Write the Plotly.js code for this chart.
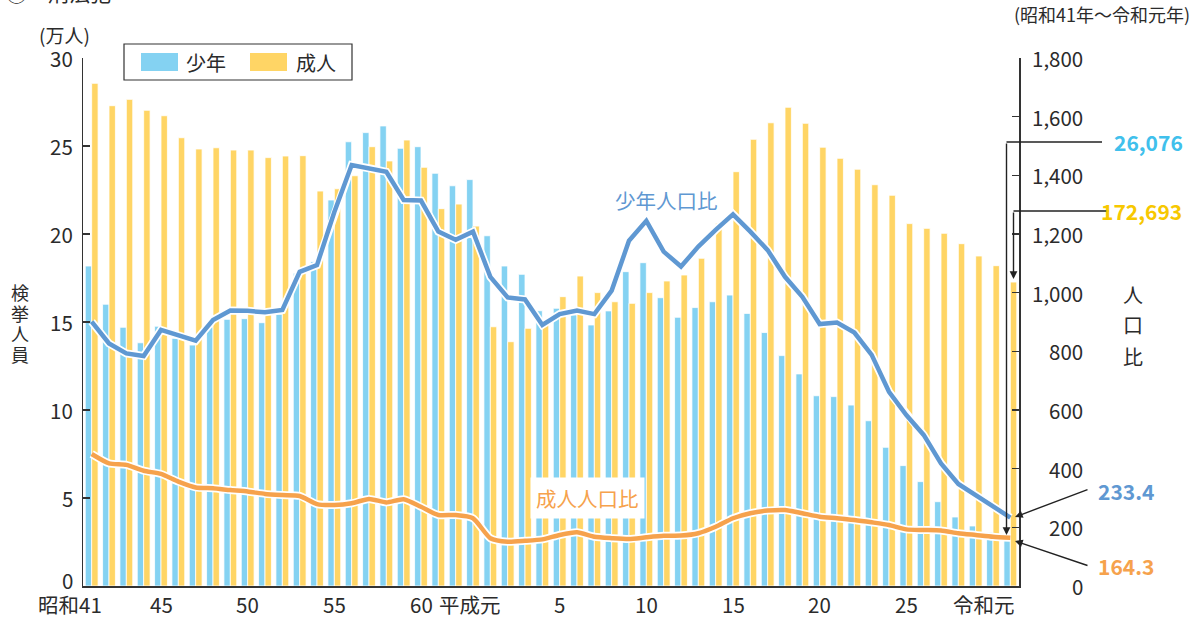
<!DOCTYPE html>
<html><head><meta charset="utf-8">
<script src="https://cdn.plot.ly/plotly-3.0.1.min.js"></script>
<style>html,body{margin:0;padding:0;background:#fff}#chart{width:1198px;height:621px}</style>
</head><body><div id="chart"></div>
<script>
// ---- data ----
const yearLabels = ["昭和41","42","43","44","45","46","47","48","49","50","51","52","53","54","55","56","57","58","59","60","61","62","63",
  "平成元","2","3","4","5","6","7","8","9","10","11","12","13","14","15","16","17","18","19","20","21","22","23","24","25","26","27","28","29","30","令和元"];
const youth = [18.18,16.01,14.70,13.82,14.76,14.07,13.69,14.72,15.15,15.19,
  14.96,15.44,17.77,18.43,21.93,25.24,25.76,26.14,24.87,24.96,
  23.45,22.74,23.09,19.90,18.18,17.71,15.64,15.78,15.40,14.83,
  15.63,17.86,18.37,16.38,15.27,15.82,16.15,16.53,15.49,14.40,
  13.09,12.05,10.81,10.76,10.28,9.39,7.88,6.84,5.93,4.79,
  3.92,3.41,3.05,2.6076];
const adult = [28.56,27.29,27.65,27.03,26.72,25.47,24.83,24.90,24.77,24.77,
  24.34,24.43,24.45,22.44,22.57,23.31,24.96,24.15,25.34,23.79,
  21.44,21.70,20.45,14.73,13.88,14.64,14.90,16.44,17.61,16.67,
  16.15,16.06,16.67,17.33,17.67,18.62,20.61,23.54,25.38,26.32,
  27.20,26.29,24.93,24.30,23.68,22.80,22.20,20.59,20.32,20.04,
  19.45,18.75,18.20,17.2693];
const youthRate = [901,827,793,784,873,856,836,907,939,938,
  933,941,1071,1094,1275,1435,1424,1412,1316,1314,
  1208,1180,1208,1054,984,977,890,927,939,927,
  1007,1177,1245,1140,1089,1157,1214,1267,1208,1145,
  1054,986,893,898,864,788,662,583,515,418,
  348,310,270,233.4];
const adultRate = [450,418,413,393,382,356,336,333,327,322,
  314,310,307,279,276,282,297,285,296,270,
  242,242,231,163,151,154,159,174,183,168,
  163,160,166,171,172,180,202,231,248,257,
  259,248,236,231,225,217,208,193,191,189,
  180,174,168,164.3];
const tickIdx  = [0,4,9,14,19,23,27,32,37,42,47,53];
const tickText = ["昭和41","45","50","55","60","平成元","5","10","15","20","25","令和元"];
const countTicks = [0,5,10,15,20,25,30];
const rateTicks = [0,200,400,600,800,1000,1200,1400,1600,1800];
const seriesNames = ["少年","成人"];
const lastYouthCount = "26,076", lastAdultCount = "172,693";
const lastYouthRate = "233.4", lastAdultRate = "164.3";

// ---- styles ----
const FONT = "Noto Sans CJK JP, Noto Sans, sans-serif";
const TXT = "#2b2b2b";
const C_BLUE_BAR = "#84d2f2", C_YEL_BAR = "#ffd565";
const C_BLUE_LINE = "#5f98d2", C_ORANGE = "#f6a24c";
const C_CYAN_TXT = "#40c0ec", C_YEL_TXT = "#f7c800";
const TICK_SIZE = 20.5;
const L = 83, R = 179, T = 58, B = 35, W = 1198, H = 621;
const PW = W - L - R, PH = H - T - B;
const px = x => (x - L) / PW;
const py = y => (H - B - y) / PH;
const shiftOf = {"昭和41": -22, "平成元": -20, "令和元": -26};

const n = yearLabels.length;
const xs = yearLabels.map((_, i) => i);

const traces = [
  {type: 'bar', x: xs, y: youth, name: seriesNames[0], yaxis: 'y',
   marker: {color: C_BLUE_BAR, line: {color: '#ffffff', width: 0.8}}, hoverinfo: 'skip'},
  {type: 'bar', x: xs, y: adult, name: seriesNames[1], yaxis: 'y',
   marker: {color: C_YEL_BAR, line: {color: '#ffffff', width: 0.8}}, hoverinfo: 'skip'},
  {type: 'scatter', mode: 'lines', x: xs, y: adultRate, yaxis: 'y2',
   line: {color: '#ffffff', width: 8, shape: 'spline', smoothing: 0.6}, hoverinfo: 'skip'},
  {type: 'scatter', mode: 'lines', x: xs, y: adultRate, yaxis: 'y2',
   line: {color: C_ORANGE, width: 4.5, shape: 'spline', smoothing: 0.6}, hoverinfo: 'skip'},
  {type: 'scatter', mode: 'lines', x: xs, y: youthRate, yaxis: 'y2',
   line: {color: '#ffffff', width: 8}, hoverinfo: 'skip'},
  {type: 'scatter', mode: 'lines', x: xs, y: youthRate, yaxis: 'y2',
   line: {color: C_BLUE_LINE, width: 4.5}, hoverinfo: 'skip'}
];

const annotations = [];
function txt(x, y, text, size, color, extra) {
  annotations.push(Object.assign({x: px(x), y: py(y), xref: 'paper', yref: 'paper', text: text, showarrow: false,
    xanchor: 'center', yanchor: 'middle', font: {family: FONT, size: size, color: color}}, extra || {}));
}
// x tick labels
tickIdx.forEach((idx, k) => {
  annotations.push({x: idx, y: py(604), xref: 'x', yref: 'paper', text: tickText[k],
    showarrow: false, xshift: shiftOf[tickText[k]] || 0, xanchor: 'center', yanchor: 'middle',
    font: {family: FONT, size: TICK_SIZE, color: TXT}});
});
// left axis tick labels (0 nudged up as in the original)
countTicks.forEach(v => {
  annotations.push({x: px(75), y: v, xref: 'paper', yref: 'y', text: String(v),
    showarrow: false, xanchor: 'right', yanchor: 'middle', yshift: v === 0 ? 6 : 0,
    font: {family: FONT, size: TICK_SIZE, color: TXT}});
});
// right axis tick labels (right-aligned)
rateTicks.forEach(v => {
  annotations.push({x: px(1085), y: v, xref: 'paper', yref: 'y2', text: v.toLocaleString('en-US'),
    showarrow: false, xanchor: 'right', yanchor: 'middle',
    font: {family: FONT, size: TICK_SIZE, color: TXT}});
});
// axis titles
txt(64, 34, '(万人)', 19, TXT);
'検挙人員'.split('').forEach((ch, i) => txt(20, 292 + i * 20.7, ch, 18, TXT));
'人口比'.split('').forEach((ch, i) => txt(1133, 294 + i * 31, ch, 20, TXT));
// header texts
txt(1102, 14, '(昭和41年～令和元年)', 18, TXT);
txt(4, -8, '①　刑法犯', 21, TXT, {xanchor: 'left'});
// legend text
txt(184, 62, seriesNames[0], 20, TXT, {xanchor: 'left'});
txt(294, 62, seriesNames[1], 20, TXT, {xanchor: 'left'});
// line labels
txt(666, 200, '少年人口比', 20.5, C_BLUE_LINE);
txt(587, 498, '成人人口比', 20.5, C_ORANGE, {bgcolor: '#ffffff', borderpad: 5});
// callouts
txt(1148, 142, '<b>' + lastYouthCount + '</b>', 21, C_CYAN_TXT);
txt(1141, 211, '<b>' + lastAdultCount + '</b>', 21, C_YEL_TXT);
txt(1126, 491, '<b>' + lastYouthRate + '</b>', 21, C_BLUE_LINE);
txt(1126, 566, '<b>' + lastAdultRate + '</b>', 21, C_ORANGE);
// arrows
const arrowBase = {text: '', showarrow: true, arrowhead: 2, arrowsize: 1.1, arrowwidth: 1.4, arrowcolor: '#222',
  xref: 'paper', yref: 'paper', axref: 'pixel', ayref: 'pixel', standoff: 0, startstandoff: 0};
annotations.push(Object.assign({}, arrowBase, {x: px(1006.5), y: py(535), ax: 0, ay: -393}));
annotations.push(Object.assign({}, arrowBase, {x: px(1013.5), y: py(279), ax: 0, ay: -68}));
annotations.push(Object.assign({}, arrowBase, {x: px(1015), y: py(517), ax: 74, ay: -28}));
annotations.push(Object.assign({}, arrowBase, {x: px(1015), y: py(541), ax: 74, ay: 25}));

const shapes = [
  // legend box & swatches
  {type: 'rect', xref: 'paper', yref: 'paper', x0: px(124), x1: px(352), y0: py(80), y1: py(44),
   line: {color: '#333', width: 1.2}, fillcolor: '#ffffff'},
  {type: 'rect', xref: 'paper', yref: 'paper', x0: px(141), x1: px(178), y0: py(71), y1: py(53),
   line: {width: 0}, fillcolor: C_BLUE_BAR},
  {type: 'rect', xref: 'paper', yref: 'paper', x0: px(250), x1: px(287), y0: py(71), y1: py(53),
   line: {width: 0}, fillcolor: C_YEL_BAR},
  // callout leader lines
  {type: 'line', xref: 'paper', yref: 'paper', x0: px(1006.5), x1: px(1102), y0: py(142), y1: py(142),
   line: {color: '#222', width: 1.4}},
  {type: 'line', xref: 'paper', yref: 'paper', x0: px(1013.5), x1: px(1109), y0: py(211), y1: py(211),
   line: {color: '#222', width: 1.4}}
];

const layout = {
  width: W, height: H, margin: {l: L, r: R, t: T, b: B, pad: 0},
  paper_bgcolor: '#ffffff', plot_bgcolor: '#ffffff',
  showlegend: false, barmode: 'group', bargap: 0.26, bargroupgap: 0,
  font: {family: FONT, color: TXT},
  xaxis: {range: [-0.5, n - 0.5], showline: true, linecolor: '#333', linewidth: 1.5, ticks: '',
    showticklabels: false, showgrid: false, zeroline: false, fixedrange: true},
  yaxis: {range: [0, 30], dtick: 5, tick0: 0, ticks: 'inside', ticklen: 7, tickwidth: 1.3, tickcolor: '#333',
    showline: true, linecolor: '#333', linewidth: 1.5, showgrid: false, zeroline: false, showticklabels: false},
  yaxis2: {range: [0, 1800], dtick: 200, tick0: 0, overlaying: 'y', side: 'right',
    ticks: 'inside', ticklen: 7, tickwidth: 1.3, tickcolor: '#333', showticklabels: false,
    showline: true, linecolor: '#333', linewidth: 1.5, showgrid: false, zeroline: false},
  annotations: annotations, shapes: shapes
};
Plotly.newPlot('chart', traces, layout, {staticPlot: true, displayModeBar: false});
</script></body></html>
